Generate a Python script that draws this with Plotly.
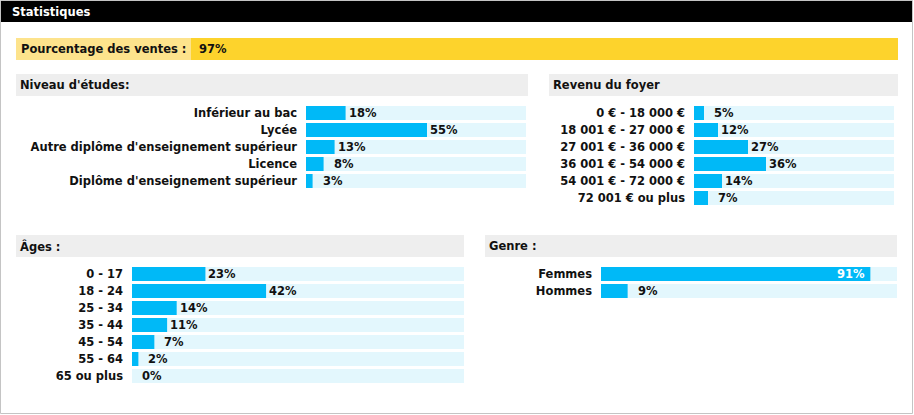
import plotly.graph_objects as go

# ---------------- data ----------------
sales_label = "Pourcentage des ventes :"
sales_value = 97

edu_title = "Niveau d'études:"
edu_cats = ["Inférieur au bac", "Lycée", "Autre diplôme d'enseignement supérieur",
            "Licence", "Diplôme d'enseignement supérieur"]
edu_vals = [18, 55, 13, 8, 3]

inc_title = "Revenu du foyer"
inc_cats = ["0 € - 18 000 €", "18 001 € - 27 000 €", "27 001 € - 36 000 €",
            "36 001 € - 54 000 €", "54 001 € - 72 000 €", "72 001 € ou plus"]
inc_vals = [5, 12, 27, 36, 14, 7]

age_title = "Âges :"
age_cats = ["0 - 17", "18 - 24", "25 - 34", "35 - 44", "45 - 54", "55 - 64", "65 ou plus"]
age_vals = [23, 42, 14, 11, 7, 2, 0]

gen_title = "Genre :"
gen_cats = ["Femmes", "Hommes"]
gen_vals = [91, 9]

page_title = "Statistiques"

# ---------------- styling / layout ----------------
W, H = 914, 415
FONT = "Verdana, DejaVu Sans, sans-serif"
FS = 11.5
BAR = "#00B9F7"
TRACK = "#E3F7FD"
HEAD_BG = "#EEEEEE"
TXT = "#111111"
PITCH = 17.0
BAR_H = 14.0


def xd(a, b):
    return [a / W, b / W]


def yd(top, bottom):
    return [1 - bottom / H, 1 - top / H]


fig = go.Figure()
shapes = []
annotations = []

# outer frame + black title bar
shapes.append(dict(type="rect", xref="paper", yref="paper", x0=0.5 / W, x1=912.5 / W,
                   y0=1 - 413.5 / H, y1=1 - 0.5 / H, line=dict(color="#C4C4C4", width=1),
                   fillcolor="rgba(0,0,0,0)", layer="below"))
shapes.append(dict(type="rect", xref="paper", yref="paper", x0=1 / W, x1=912 / W,
                   y0=1 - 22 / H, y1=1 - 1 / H, line=dict(width=0), fillcolor="#000000",
                   layer="below"))
annotations.append(dict(xref="paper", yref="paper", x=10 / W, y=1 - 12 / H, xanchor="left",
                        yanchor="middle", showarrow=False, text=page_title,
                        font=dict(family=FONT, size=FS, color="#FFFFFF", weight="bold")))

# sales percentage bar
shapes.append(dict(type="rect", xref="paper", yref="paper", x0=16 / W, x1=191 / W,
                   y0=1 - 60 / H, y1=1 - 38 / H, line=dict(width=0), fillcolor="#FDE38C",
                   layer="below"))
annotations.append(dict(xref="paper", yref="paper", x=19 / W, y=1 - 49 / H, xanchor="left",
                        yanchor="middle", showarrow=False, text=sales_label,
                        font=dict(family=FONT, size=FS, color=TXT, weight="bold")))
fig.add_trace(go.Bar(x=[sales_value], y=[0], orientation="h", width=1,
                     marker=dict(color="#FDD32C", line=dict(width=0)),
                     xaxis="x5", yaxis="y5", hoverinfo="skip", showlegend=False))
annotations.append(dict(xref="x5", yref="y5", x=0, y=0, xanchor="left", yanchor="middle",
                        xshift=6, showarrow=False, text=f"{sales_value}%",
                        font=dict(family=FONT, size=FS, color=TXT, weight="bold")))

layout_axes = {
    "xaxis5": dict(domain=xd(191, 898), range=[0, sales_value], visible=False, fixedrange=True),
    "yaxis5": dict(domain=yd(38, 60), range=[-0.5, 0.5], visible=False, fixedrange=True),
}

panels = [
    # (idx, title, cats, vals, header x0,x1,y0,y1, title x, track x0,x1, first row top, xmax)
    (1, edu_title, edu_cats, edu_vals, 16, 528, 74, 96, 18, 306, 526, 106, 100),
    (2, inc_title, inc_cats, inc_vals, 549, 898, 74, 96, 551, 694, 894, 106, 100),
    (3, age_title, age_cats, age_vals, 16, 464, 235, 257, 18, 132, 464, 267, 104),
    (4, gen_title, gen_cats, gen_vals, 485, 897, 235, 257, 487, 601, 897, 267, 100),
]

for idx, title, cats, vals, hx0, hx1, hy0, hy1, tx, ax0, ax1, top, xmax in panels:
    xa = "x" if idx == 1 else f"x{idx}"
    ya = "y" if idx == 1 else f"y{idx}"
    n = len(cats)
    shapes.append(dict(type="rect", xref="paper", yref="paper", x0=hx0 / W, x1=hx1 / W,
                       y0=1 - hy1 / H, y1=1 - hy0 / H, line=dict(width=0),
                       fillcolor=HEAD_BG, layer="below"))
    annotations.append(dict(xref="paper", yref="paper", x=tx / W, y=1 - (hy0 + hy1) / 2 / H,
                            xanchor="left", yanchor="middle", showarrow=False, text=title,
                            font=dict(family=FONT, size=FS, color=TXT, weight="bold")))
    ytop = top - (PITCH - BAR_H) / 2
    ybot = ytop + n * PITCH
    w = BAR_H / PITCH
    fig.add_trace(go.Bar(x=[xmax] * n, y=cats, orientation="h", width=w,
                         marker=dict(color=TRACK, line=dict(width=0)),
                         xaxis=xa, yaxis=ya, hoverinfo="skip", showlegend=False))
    fig.add_trace(go.Bar(x=vals, y=cats, orientation="h", width=w,
                         marker=dict(color=BAR, line=dict(width=0)),
                         xaxis=xa, yaxis=ya, showlegend=False))
    track_px = ax1 - ax0
    for c, v in zip(cats, vals):
        end_px = v / xmax * track_px
        label = f"{v}%"
        if end_px + 30 > track_px:
            annotations.append(dict(xref=xa, yref=ya, x=v, y=c, xanchor="right",
                                    yanchor="middle", xshift=-3, showarrow=False,
                                    text=label,
                                    font=dict(family=FONT, size=FS, color="#FFFFFF",
                                              weight="bold")))
        else:
            shift = 1 if len(label) >= 3 else 8
            annotations.append(dict(xref=xa, yref=ya, x=v, y=c, xanchor="left",
                                    yanchor="middle", xshift=shift, showarrow=False,
                                    text=label,
                                    font=dict(family=FONT, size=FS, color=TXT,
                                              weight="bold")))
    key = "" if idx == 1 else str(idx)
    layout_axes["xaxis" + key] = dict(domain=xd(ax0, ax1), range=[0, xmax], visible=False,
                                      fixedrange=True)
    layout_axes["yaxis" + key] = dict(domain=yd(ytop, ybot), range=[n - 0.5, -0.5],
                                      type="category", categoryorder="array",
                                      categoryarray=cats, showgrid=False, zeroline=False,
                                      showline=False, ticks="", ticklabelstandoff=8,
                                      tickfont=dict(family=FONT, size=FS, color=TXT,
                                                    weight="bold"),
                                      fixedrange=True, anchor=xa)

fig.update_layout(
    width=W, height=H,
    margin=dict(l=0, r=0, t=0, b=0),
    paper_bgcolor="#FFFFFF", plot_bgcolor="rgba(0,0,0,0)",
    barmode="overlay",
    shapes=shapes,
    annotations=annotations,
    showlegend=False,
    **layout_axes,
)

fig.write_html("out.html", config={"displayModeBar": False})
